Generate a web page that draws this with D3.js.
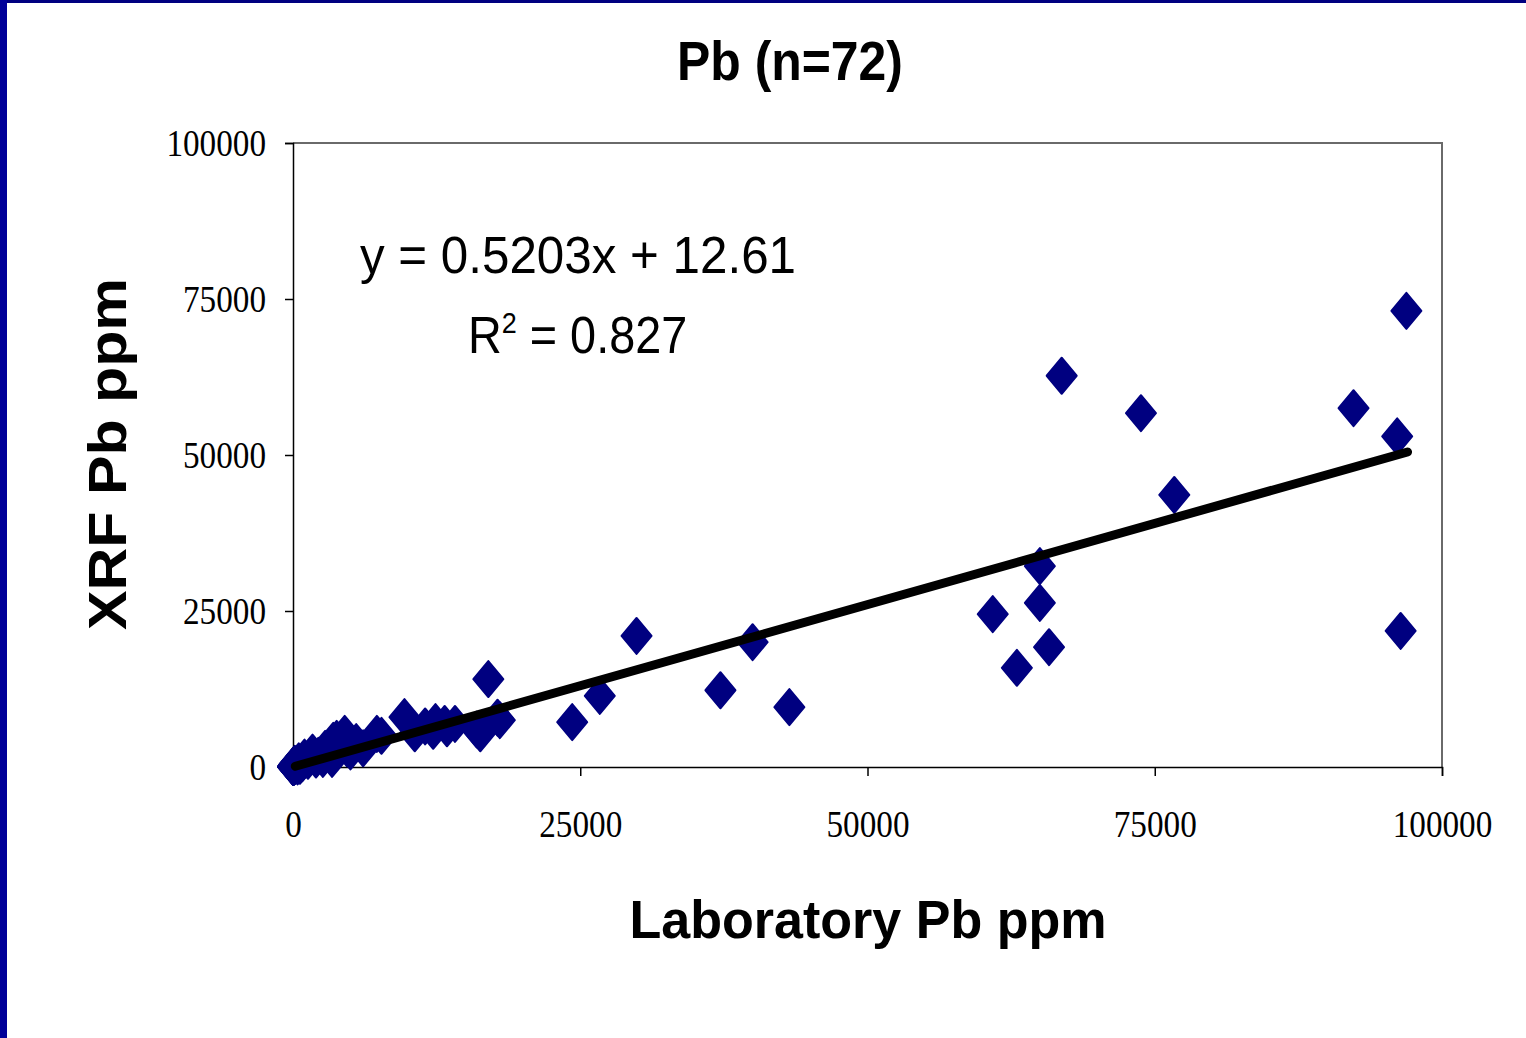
<!DOCTYPE html>
<html>
<head>
<meta charset="utf-8">
<script src="https://cdn.jsdelivr.net/npm/d3@7"></script>
<style>
  html, body { margin: 0; padding: 0; background: #ffffff; }
  svg { display: block; }
</style>
</head>
<body>
<svg id="chart" width="1526" height="1038"></svg>
<script>
// ---- Data ----
const titleText = "Pb (n=72)";
const xLabel = "Laboratory Pb ppm";
const yLabel = "XRF Pb ppm";
const xTicks = [0, 25000, 50000, 75000, 100000];
const yTicks = [0, 25000, 50000, 75000, 100000];
const slope = 0.5203;
const intercept = 12.61;
const r2 = 0.827;
// Laboratory Pb ppm (x) and XRF Pb ppm (y) values, 72 samples
const labPb = [
  66900, 73800, 76700, 92300, 96100, 96900, 96400, 65000, 65000, 60900, 65800, 63000,
  29900, 40000, 37200, 43200, 26700, 24300,
  17000, 17800, 18000, 16300, 16000, 14100, 13200, 12400, 12200, 10600, 9700, 13400, 11500,
  7700, 7300, 6100, 4500, 4700, 3800, 3500, 3400, 2600, 2200, 1300, 600, 300,
  5500, 5000, 2800, 2000, 1700, 1000, 800, 500, 400, 250, 200, 150, 120, 100, 90, 80,
  70, 60, 50, 40, 35, 30, 25, 20, 15, 10, 8, 5
];
const xrfPb = [
  62700, 56700, 43600, 57500, 53000, 73100, 21800, 32200, 26300, 24500, 19200, 15900,
  21000, 20000, 12300, 9600, 11400, 7200,
  14100, 7900, 7500, 5400, 6000, 6900, 6900, 7200, 5800, 5400, 8000, 6200, 6500,
  5000, 5300, 3000, 5300, 3000, 4500, 4200, 1300, 1300, 1800, 1000, 200, 300,
  4000, 2500, 2900, 1200, 2300, 1500, 600, 900, 100, 400, 200, 500, 100, 300, 50, 150,
  250, 80, 40, 120, 60, 20, 90, 30, 10, 50, 5, 15
];
const trendX = [200, 97000];

// ---- Layout ----
const svg = d3.select("#chart");
const W = 1526, H = 1038;
const plot = { left: 293, right: 1442, top: 143, bottom: 767 };

// frame borders
svg.append("rect").attr("x", 0).attr("y", 0).attr("width", W).attr("height", H).attr("fill", "#ffffff");
svg.append("rect").attr("x", 0).attr("y", 0).attr("width", W).attr("height", 3).attr("fill", "#000080");
svg.append("rect").attr("x", 0).attr("y", 0).attr("width", 7).attr("height", H).attr("fill", "#000099");

const x = d3.scaleLinear().domain([0, 100000]).range([plot.left, plot.right]);
const y = d3.scaleLinear().domain([0, 100000]).range([plot.bottom, plot.top]);

// plot box (top/right in gray)
svg.append("path")
  .attr("d", `M${plot.left},${plot.top}H${plot.right}V${plot.bottom}`)
  .attr("fill", "none").attr("stroke", "#6a6a6a").attr("stroke-width", 2);

const serif = "'Liberation Serif', 'Times New Roman', serif";
const sans = "'Liberation Sans', Arial, sans-serif";

// axes
const xAxis = svg.append("g").attr("transform", `translate(0,${plot.bottom})`)
  .call(d3.axisBottom(x).tickValues(xTicks).tickFormat(d3.format("d")).tickSize(9).tickPadding(61));
const yAxis = svg.append("g").attr("transform", `translate(${plot.left},0)`)
  .call(d3.axisLeft(y).tickValues(yTicks).tickFormat(d3.format("d")).tickSize(8).tickPadding(19));

[xAxis, yAxis].forEach(g => {
  g.select(".domain").attr("stroke", "#000").attr("stroke-width", 1.5);
  g.selectAll(".tick line").attr("stroke", "#000").attr("stroke-width", 1.5);
  g.selectAll(".tick text")
    .attr("fill", "#000")
    .style("font-family", serif)
    .style("font-size", "38px")
    .attr("textLength", function() { return this.textContent.length * 16.6; })
    .attr("lengthAdjust", "spacingAndGlyphs");
});
xAxis.selectAll(".tick text").attr("dy", "0");
yAxis.selectAll(".tick text").attr("dy", "0.34em");

// points (navy diamonds)
const diamond = "M0,-18L15,0L0,18L-15,0Z";
const pts = labPb.map((v, i) => ({ x: v, y: xrfPb[i] }));
svg.append("g").selectAll("path")
  .data(pts)
  .join("path")
  .attr("d", diamond)
  .attr("transform", d => `translate(${x(d.x)},${y(d.y)})`)
  .attr("fill", "#000080")
  .attr("stroke", "#000080")
  .attr("stroke-width", 2)
  .attr("stroke-linejoin", "round");

// trend line
const line = d3.line().x(d => x(d)).y(d => y(slope * d + intercept));
svg.append("path")
  .datum(trendX)
  .attr("d", line)
  .attr("fill", "none")
  .attr("stroke", "#000")
  .attr("stroke-width", 9)
  .attr("stroke-linecap", "round");

// equation
svg.append("text")
  .attr("x", 360).attr("y", 273)
  .style("font-family", sans).style("font-size", "52px").attr("fill", "#000")
  .attr("textLength", 436).attr("lengthAdjust", "spacingAndGlyphs")
  .text(`y = ${slope}x + ${intercept}`);
const r2g = svg.append("g").attr("transform", "translate(468,353) scale(0.9,1)");
const r2t = r2g.append("text")
  .attr("x", 0).attr("y", 0)
  .style("font-family", sans).style("font-size", "52px").attr("fill", "#000");
r2t.append("tspan").text("R");
r2t.append("tspan").attr("dy", -20).style("font-size", "30px").text("2");
r2t.append("tspan").attr("dy", 20).text(` = ${r2}`);

// title
svg.append("text")
  .attr("x", 790).attr("y", 80).attr("text-anchor", "middle")
  .style("font-family", sans).style("font-size", "55px").style("font-weight", "bold")
  .attr("textLength", 226).attr("lengthAdjust", "spacingAndGlyphs")
  .text(titleText);

// x label
svg.append("text")
  .attr("x", 868).attr("y", 938).attr("text-anchor", "middle")
  .style("font-family", sans).style("font-size", "54px").style("font-weight", "bold")
  .attr("textLength", 477).attr("lengthAdjust", "spacingAndGlyphs")
  .text(xLabel);

// y label
svg.append("text")
  .attr("transform", "translate(126,454) rotate(-90)").attr("text-anchor", "middle")
  .style("font-family", sans).style("font-size", "54px").style("font-weight", "bold")
  .attr("textLength", 352).attr("lengthAdjust", "spacingAndGlyphs")
  .text(yLabel);
</script>
</body>
</html>
